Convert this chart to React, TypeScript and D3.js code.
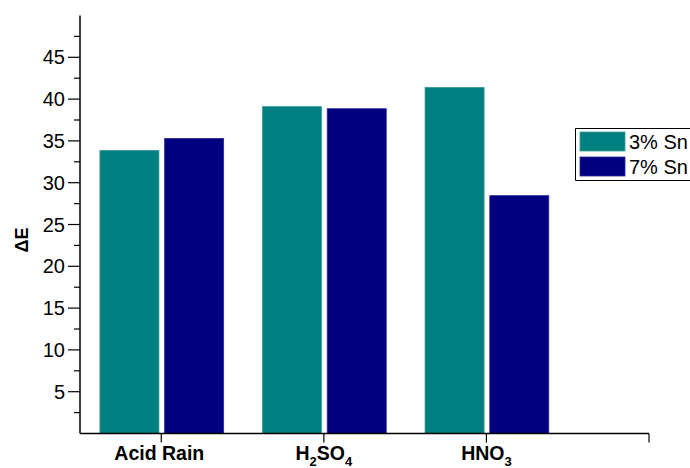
import React from "react";
import * as d3 from "d3";

const categories = ["Acid Rain", "H2SO4", "HNO3"];
const series3 = [33.85, 39.1, 41.4];
const series7 = [35.3, 38.85, 28.45];
const seriesNames = ["3% Sn", "7% Sn"];
const yMajorTicks = [5, 10, 15, 20, 25, 30, 35, 40, 45];
const yMinorTicks = [2.5, 7.5, 12.5, 17.5, 22.5, 27.5, 32.5, 37.5, 42.5, 47.5];
const xTicks = [1, 2, 3, 4];

const TEAL = "#008080";
const NAVY = "#000080";

function CatLabel({ name, x, y }: { name: string; x: number; y: number }) {
  const parts: { t: string; sub: boolean }[] = [];
  const re = /([A-Za-z ]+|\d+)/g;
  let m;
  while ((m = re.exec(name)) !== null) {
    parts.push({ t: m[0], sub: /^\d+$/.test(m[0]) });
  }
  return (
    <text x={x} y={y} textAnchor="middle" fontFamily="Liberation Sans, Arial, sans-serif" fontWeight="bold" fontSize={19.5} fill="#000">
      {parts.map((p, i) =>
        p.sub ? (
          <tspan key={i} fontSize={13} dy={6}>{p.t}</tspan>
        ) : (
          <tspan key={i} dy={i > 0 && parts[i - 1].sub ? -6 : 0}>{p.t}</tspan>
        )
      )}
    </text>
  );
}

export default function App() {
  const W = 690, H = 468;
  const x = d3.scaleLinear().domain([0.5, 4]).range([80, 649]);
  const y = d3.scaleLinear().domain([0, 50]).range([433.5, 15.5]);
  const step = x(2) - x(1);
  const barW = step * 0.363;
  const gap = step * 0.0145;
  const font = "Liberation Sans, Arial, sans-serif";

  return (
    <svg width={W} height={H} viewBox={`0 0 ${W} ${H}`} style={{ position: "absolute", left: 0, top: 0, display: "block" }}>
      <rect width={W} height={H} fill="#fff" />
      {categories.map((c, i) => {
        const cx = x(i + 1);
        return (
          <g key={c}>
            <rect x={cx - gap - barW} y={y(series3[i])} width={barW} height={y(0) - y(series3[i])} fill={TEAL} stroke="#3a9a9a" strokeWidth={0.8} />
            <rect x={cx + gap + 1} y={y(series7[i])} width={barW} height={y(0) - y(series7[i])} fill={NAVY} stroke="#2a2a9a" strokeWidth={0.8} />
          </g>
        );
      })}
      {/* Y axis */}
      <line x1={80} x2={80} y1={y(50)} y2={y(0)} stroke="#000" strokeWidth={1.5} />
      {yMajorTicks.map((t) => (
        <g key={t}>
          <line x1={68} x2={80} y1={y(t)} y2={y(t)} stroke="#000" strokeWidth={1.2} />
          <text x={65} y={y(t)} dy="0.35em" textAnchor="end" fontFamily={font} fontSize={20} fill="#000">{t}</text>
        </g>
      ))}
      {yMinorTicks.map((t) => (
        <line key={t} x1={74} x2={80} y1={y(t)} y2={y(t)} stroke="#000" strokeWidth={1.2} />
      ))}
      {/* X axis */}
      <line x1={80} x2={x(4)} y1={y(0)} y2={y(0)} stroke="#000" strokeWidth={1.5} />
      {xTicks.map((t) => (
        <line key={t} x1={x(t)} x2={x(t)} y1={y(0)} y2={y(0) + 9} stroke="#000" strokeWidth={1.2} />
      ))}
      {categories.map((c, i) => (
        <CatLabel key={c} name={c} x={x(i + 1) + (i === 0 ? -2 : 0)} y={460} />
      ))}
      {/* Y title */}
      <text transform="translate(28,240) rotate(-90)" textAnchor="middle" fontFamily={font} fontWeight="bold" fontSize={18} fill="#000">ΔE</text>
      {/* Legend (box continues past the right edge) */}
      <line x1={575.5} x2={700} y1={128.5} y2={128.5} stroke="#000" strokeWidth={1} />
      <line x1={575.5} x2={700} y1={180.5} y2={180.5} stroke="#000" strokeWidth={1} />
      <line x1={575.5} x2={575.5} y1={128.5} y2={180.5} stroke="#000" strokeWidth={1} />
      {seriesNames.map((s, i) => (
        <g key={s}>
          <rect x={580} y={132 + i * 25} width={45} height={19} fill={i === 0 ? TEAL : NAVY} stroke={i === 0 ? "#3a9a9a" : "#2a2a9a"} strokeWidth={0.8} />
          <text x={629} y={148.5 + i * 25} fontFamily={font} fontSize={20} fill="#000">{s}</text>
        </g>
      ))}
    </svg>
  );
}
